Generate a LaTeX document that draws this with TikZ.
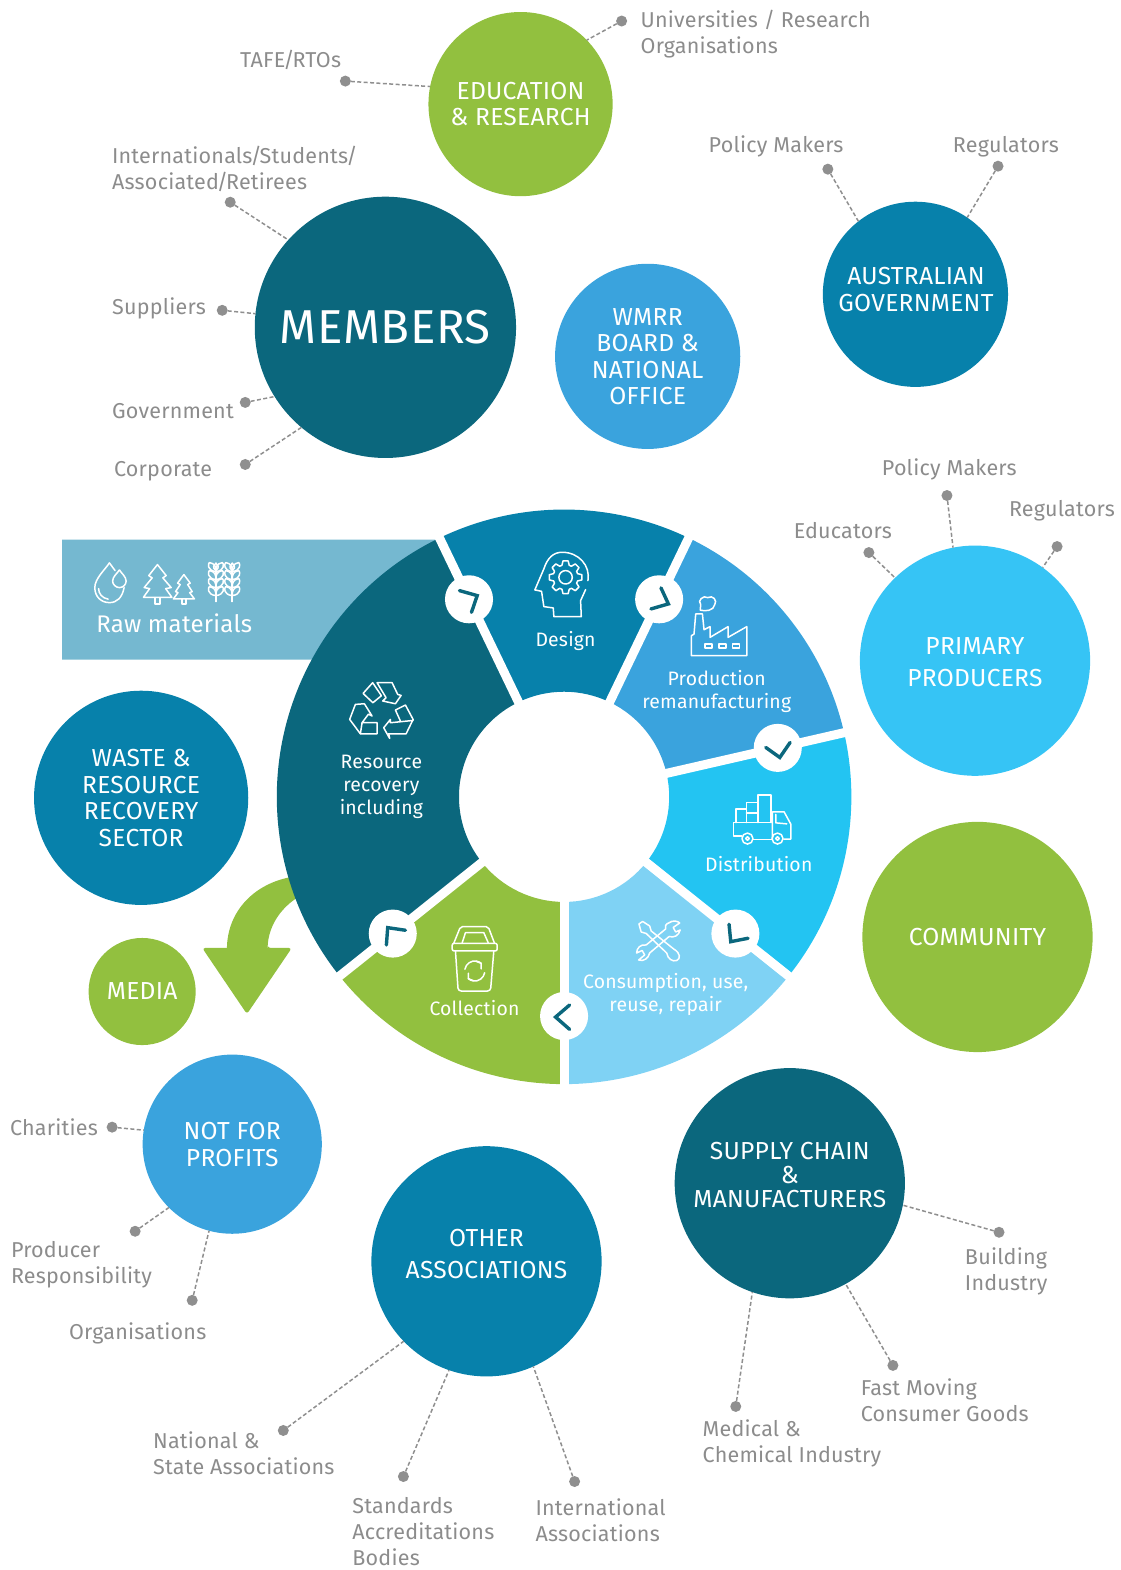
\documentclass[tikz,border=0pt]{standalone}
\usepackage{fontspec}
\setmainfont{Fira Sans}[LetterSpace=1]
\usetikzlibrary{arrows.meta}
\definecolor{cTeal}{HTML}{0B677D}
\definecolor{cBlue}{HTML}{0781AB}
\definecolor{cMid}{HTML}{3AA3DD}
\definecolor{cCyan}{HTML}{23C4F2}
\definecolor{cSky}{HTML}{36C4F5}
\definecolor{cPale}{HTML}{7FD2F4}
\definecolor{cGreen}{HTML}{92C03F}
\definecolor{cRaw}{HTML}{75B8D0}
\definecolor{cGrey}{HTML}{8C8C8C}
\definecolor{cDot}{HTML}{8F8F8F}
\newcommand\F{\rule{0pt}{18pt}}
\newcommand\Sl{\kern-2pt/\kern-2pt}
\newcommand\lab[4]{\node[lab] (#3) at (#1,#2-18) {\F #4};}
\newcommand\sect[3]{\fill[#3] (#1:105pt) -- (#1:287pt) arc[start angle=#1,end angle=#2,radius=287pt] -- (#2:105pt) arc[start angle=#2,end angle=#1,radius=105pt] -- cycle;}
\newcommand\leaf[3]{\draw[ic] (#1,#2) .. controls (#1+#3*9,#2-1) and (#1+#3*8,#2-8) .. (#1+#3*6.5,#2-9) .. controls (#1+#3*1,#2-8) and (#1,#2-5) .. (#1,#2);}
\newcommand\wheat[1]{\draw[ic] (#1,570) -- (#1,601);
\leaf{#1}{595}{1}\leaf{#1}{595}{-1}\leaf{#1}{587}{1}\leaf{#1}{587}{-1}\leaf{#1}{579}{1}\leaf{#1}{579}{-1}\leaf{#1}{571}{1}\leaf{#1}{571}{-1}
\draw[ic] (#1,570) .. controls (#1-4,567) and (#1-2,564) .. (#1,562.5) .. controls (#1+2,564) and (#1+4,567) .. (#1,570);}
\tikzset{
 big/.style={circle,inner sep=0pt,outer sep=0pt},
 ct/.style={inner sep=0pt,outer sep=0pt,align=center,text=white,font=\fontsize{24.6}{26.5}\selectfont},
 lab/.style={anchor=north west,inner sep=0pt,outer sep=0pt,align=left,text=cGrey,font=\fontsize{21.5}{26.1}\selectfont},
 wl/.style={inner sep=0pt,outer sep=0pt,align=center,text=white,font=\fontsize{19.4}{23}\selectfont},
 dotn/.style={circle,fill=cDot,inner sep=0pt,outer sep=0pt,minimum size=11pt},
 lead/.style={cDot,line width=1.5pt,dash pattern=on 4pt off 2.4pt},
 mk/.style={circle,fill=white,inner sep=0pt,minimum size=48pt},
 chev/.style={cTeal,line width=3.4pt,line cap=round,line join=miter},
 ic/.style={white,line width=1.5pt,line join=round,line cap=round},
}
\begin{document}
\begin{tikzpicture}[x=1pt,y=-1pt]
\useasboundingbox (0,0) rectangle (1118.9,1568.4);
% raw materials band and arrow behind the wheel
\fill[cRaw] (62,539) -- (436,539) -- (400,659) -- (62,659) -- cycle;
\fill[cGreen,rounded corners=3pt] (226.7,947) -- (202,947) -- (246.7,1013) -- (291.5,947) -- (267.3,947) -- (267.3,947);
\fill[cGreen] (226.7,948) .. controls (226.7,910) and (255,880) .. (298,875) -- (310,890) .. controls (285,900) and (267.3,922) .. (267.3,948) -- cycle;
% wheel
\begin{scope}[shift={(563.5,796)},y=1pt]
\sect{115.7}{64.3}{cBlue}
\sect{64.3}{12.9}{cMid}
\sect{12.9}{-38.6}{cCyan}
\sect{-38.6}{-90}{cPale}
\sect{-90}{-141.4}{cGreen}
\sect{-141.4}{-244.3}{cTeal}
\foreach \a in {115.7,64.3,12.9,-38.6,-90,-141.4}
  \draw[white,line width=9pt] (\a:100pt) -- (\a:292pt);
\node[mk] (m1) at (115.7:219pt) {};
\node[mk] (m2) at (64.3:219pt) {};
\node[mk] (m3) at (12.9:219pt) {};
\node[mk] (m4) at (-38.6:219pt) {};
\node[mk] (m5) at (-90:219pt) {};
\node[mk] (m6) at (-141.4:219pt) {};
\end{scope}
\draw[chev] (459,590) -- (476.7,595) -- (471,611.7);
\draw[chev] (660.3,587.3) -- (667.7,603.3) -- (650.3,608.3);
\draw[chev] (765,746.7) -- (779,756.7) -- (789.3,741.7);
\draw[chev] (728.3,923.3) -- (730,940.7) -- (747.3,937.3);
\draw[chev] (569,1004) -- (555,1016) -- (569,1028.3);
\draw[chev] (405,929.3) -- (387.3,926.7) -- (386,944);
% wheel labels
\node[wl] (tDesign) at (565,640) {Design};
\node[wl] (tProd) at (716,691) {Production\\remanufacturing};
\node[wl] (tDist) at (758,863) {Distribution};
\node[wl] (tCons) at (665,993) {Consumption, use,\\reuse, repair};
\node[wl] (tColl) at (474,1007) {Collection};
\node[wl] (tRes) at (381,786) {Resource\\recovery\\including};
\node[inner sep=0pt,text=white,font=\fontsize{24}{27}\selectfont] (tRaw) at (174,623) {Raw materials};
% icons: drops
\draw[ic] (109.3,562.3) .. controls (105,569) and (94.7,578) .. (94.7,587) .. controls (94.7,596) and (101,602) .. (109.3,602) .. controls (117,602) and (122,597) .. (124,587);
\draw[ic] (119.3,569.3) .. controls (117,573) and (112.5,576) .. (112.5,580.5) .. controls (112.5,584) and (116,587) .. (119.3,587) .. controls (123,587) and (126,584) .. (126,580.5) .. controls (126,576) and (121.5,573) .. (119.3,569.3);
\draw[ic] (98.5,588) .. controls (98.5,593) and (102,597.5) .. (108,598.5);
\draw[ic] (109.3,562.3) .. controls (111,565) and (113,567) .. (115,570);
% trees
\draw[ic] (157.3,564) -- (166,575) -- (162.7,577.3) -- (171,587) -- (165.5,588) -- (171.7,596.7) -- (143.3,596.7) -- (149.5,588) -- (144,587) -- (152,577.3) -- (148.6,575) -- cycle;
\draw[ic] (155,597) -- (155,603.3) -- (160,603.3) -- (160,597);
\draw[ic] (183.7,574) -- (190,582.5) -- (187.5,584) -- (192,591) -- (189.5,592) -- (194.2,598.3) -- (173.2,598.3) -- (177.8,592) -- (175.4,591) -- (180,584) -- (177.4,582.5) -- cycle;
\draw[ic] (181.7,598.5) -- (181.7,603.3) -- (185.7,603.3) -- (185.7,598.5);
% wheat
\wheat{215.7}
\wheat{232}
% head with gear
\draw[ic] (587.3,580) .. controls (590,565) and (578,551.7) .. (561.7,551.7) .. controls (553,551.7) and (547,557) .. (543.3,568.3) -- (534.3,589.3) -- (541,590.7) -- (543.3,606) -- (552.7,607.3) -- (553.3,616) -- (580.7,616) -- (580,600) -- (585,589);
\begin{scope}[shift={(565,576.7)},y=1pt]
\draw[ic] (-17:12.5pt) \foreach \a in {0,45,...,315}{ -- (\a-17:12.5pt) -- (\a-9:16.5pt) -- (\a+9:16.5pt) -- (\a+17:12.5pt)} -- cycle;
\draw[ic] (0,0) circle (6.7pt);
\end{scope}
% factory
\draw[ic] (690.7,635) -- (690.7,655) -- (746,655) -- (746,626) -- (727.3,636.7) -- (727.3,626) -- (709.3,636.7) -- (709.3,626) -- (703.3,629) -- (701.7,613.3) -- (695,613.3) -- (693.3,633.5) -- cycle;
\foreach \x in {708,721.7,735} \draw[ic] (\x-3.5,643.3) rectangle (\x+3.5,647.3);
\draw[ic] (699.5,609.5) -- (700,604) .. controls (696,600) and (703,594) .. (707,597) .. controls (712,594) and (717,600) .. (714,604) .. controls (713,610) and (705,611) .. (699.5,609.5);
% truck
\draw[ic] (770,821.7) -- (732.7,821.7) -- (732.7,835) -- (741,835);
\draw[ic] (735,821.7) -- (735,808.3) -- (745.7,808.3) -- (745.7,821.7);
\draw[ic] (745.7,812.3) -- (745.7,801.7) -- (757.3,801.7) -- (757.3,821.7) (745.7,812.3) -- (757.3,812.3);
\draw[ic] (757.3,801.7) -- (757.3,794.3) -- (770,794.3) -- (770,821.7);
\draw[ic] (771.7,838) -- (771.7,811) -- (783.3,811) -- (790,823.3) -- (790,838.3) -- (783,838.3);
\draw[ic] (775,813.5) -- (775,822) -- (786,823);
\draw[ic] (752.5,838.5) -- (771,838.5);
\draw[ic] (746.7,837.7) circle (5.5pt) (746.7,837.7) circle (1.8pt);
\draw[ic] (776.7,837.7) circle (5.5pt) (776.7,837.7) circle (1.8pt);
% tools
\draw[ic] (638.3,923) -- (642,920.5) -- (649,925) -- (650.5,930) -- (673,948) .. controls (680,952) and (680,958) .. (676,959.5) .. controls (672,961) and (667,958) .. (666,952) -- (645.5,932.5) -- (640.5,931) -- cycle;
\draw[ic] (668,922) .. controls (672,919) and (677,920) .. (679,922) -- (672.5,926.5) -- (675,931) -- (679.5,929) .. controls (678,935) and (673,937) .. (668.5,935.5) -- (649,952) .. controls (648,957) and (643,961) .. (638,959) -- (644,954) -- (641.5,949.5) -- (636,952) .. controls (636,947) and (640,943) .. (645.5,944) -- (665,928) .. controls (664,925.5) and (665,923) .. (668,922);
% bin
\draw[ic,rounded corners=2pt] (453.3,942.3) -- (460,925.7) -- (487.7,925.7) -- (494,942.3);
\draw[ic] (461.7,941.7) -- (465,931.7) -- (483.3,931.7) -- (487.7,941.7);
\draw[ic,rounded corners=2pt] (451.7,942.3) rectangle (496.7,950);
\draw[ic,rounded corners=3pt] (455,950) -- (457.7,990) -- (490,990) -- (493.3,950);
\begin{scope}[shift={(474.3,970)},y=1pt]
\draw[ic] (170:10pt) arc[start angle=170,end angle=50,radius=10pt];
\draw[ic] (-10:10pt) arc[start angle=-10,end angle=-130,radius=10pt];
\draw[ic] (50:10pt) ++(-5,2) -- (50:10pt) -- ++(0,-5.5);
\draw[ic] (-130:10pt) ++(5,-2) -- (-130:10pt) -- ++(0,5.5);
\end{scope}
% recycle
\draw[ic] (362.7,692.7) -- (372.3,682) -- (381,695) -- (372.5,702) -- cycle;
\draw[ic] (376.7,682) -- (391.7,682) -- (397.3,693.7) -- (400.7,694.7) -- (395,703) -- (382.3,700.3) -- (385.7,697) -- cycle;
\draw[ic] (400,720.3) -- (395,709.3) -- (405,704.3) -- (412.7,718.7) -- (405.7,733) -- (388.3,733) -- (389.3,737.7) -- (383.3,727) -- (390,718.7) -- (390,722) -- (412.7,719.7);
\draw[ic] (364,703) -- (355,703.7) -- (349.3,718.7) -- (360,733) -- (376.7,733) -- (376.7,722) -- (361.7,722) -- (368,713.5) -- (371.7,715.3) -- (364,703);
\draw[ic] (360,733) -- (361.7,722);
% big circles
\node[big,fill=cGreen,minimum size=184pt] (edu) at (520,104) {};
\node[big,fill=cTeal,minimum size=261pt] (mem) at (385,327) {};
\node[big,fill=cMid,minimum size=185pt] (wmrr) at (647,356) {};
\node[big,fill=cBlue,minimum size=185pt] (aus) at (914.5,294) {};
\node[big,fill=cSky,minimum size=230pt] (pri) at (974,660) {};
\node[big,fill=cGreen,minimum size=230pt] (com) at (976.5,936) {};
\node[big,fill=cBlue,minimum size=214pt] (was) at (141,797) {};
\node[big,fill=cGreen,minimum size=107pt] (med) at (142,990.5) {};
\node[big,fill=cMid,minimum size=179pt] (nfp) at (232,1143) {};
\node[big,fill=cBlue,minimum size=230pt] (oth) at (486,1260) {};
\node[big,fill=cTeal,minimum size=230pt] (sup) at (789,1182) {};
% circle titles
\node[ct] (tEdu) at (520,104) {EDUCATION\\\&\ RESEARCH};
\node[ct,font=\fontsize{47.5}{50}\selectfont] (tMem) at (385,327) {MEMBERS};
\node[ct] (tWmrr) at (647,356.5) {WMRR\\BOARD \&\\NATIONAL\\OFFICE};
\node[ct] (tAus) at (915,289) {AUSTRALIAN\\GOVERNMENT};
\node[ct,font=\fontsize{24.6}{31.5}\selectfont] (tPri) at (974,661.5) {PRIMARY\\PRODUCERS};
\node[ct] (tCom) at (976.5,936) {COMMUNITY};
\node[ct] (tWas) at (141,797) {WASTE \&\\RESOURCE\\RECOVERY\\SECTOR};
\node[ct] (tMed) at (142,990) {MEDIA};
\node[ct] (tNfp) at (232,1143.5) {NOT FOR\\PROFITS};
\node[ct,font=\fontsize{24.6}{31.5}\selectfont] (tOth) at (486,1252.5) {OTHER\\ASSOCIATIONS};
\node[ct,font=\fontsize{24.6}{24.2}\selectfont] (tSup) at (789,1174) {SUPPLY CHAIN\\\&\\MANUFACTURERS};
% outer labels
\lab{640}{27}{l1}{Universities / Research\\Organisations}
\lab{240}{67}{l2}{TAFE\Sl RTOs}
\lab{112}{163}{l3}{Internationals\Sl Students\Sl\\Associated\Sl Retirees}
\lab{112}{314}{l4}{Suppliers}
\lab{112}{418}{l5}{Government}
\lab{114}{476}{l6}{Corporate}
\lab{708}{152}{l7}{Policy Makers}
\lab{952}{152}{l8}{Regulators}
\lab{793}{538}{l9}{Educators}
\lab{881}{475}{l10}{Policy Makers}
\lab{1008}{516}{l11}{Regulators}
\lab{10}{1134}{l12}{Charities}
\lab{11}{1256}{l13}{Producer\\Responsibility}
\lab{69}{1338}{l14}{Organisations}
\lab{153}{1447}{l15}{National \&\\State Associations}
\lab{352}{1512}{l16}{Standards\\Accreditations\\Bodies}
\lab{535}{1514}{l17}{International\\Associations}
\lab{964}{1263}{l18}{Building\\Industry}
\lab{860}{1394}{l19}{Fast Moving\\Consumer Goods}
\lab{702}{1435}{l20}{Medical \&\\Chemical Industry}
% leader dots
\foreach \n/\x/\y in {d1/621/21,d2/345/81,d3/230/202,d4/222/310,d5/245/402,d6/245/464,d7/827/169,d8/997/166,d9/868/552,d10/946/495,d11/1056/546,d12/112/1126,d13/135/1230,d14/192/1299,d15/283/1429,d16/403/1475,d17/574/1480,d18/998/1231,d19/892/1364,d20/735/1405}
  \node[dotn] (\n) at (\x,\y) {};
\foreach \d/\t in {d1/edu.44,d2/edu.169.5,d3/mem.138.4,d4/mem.174.7,d5/mem.212,d6/mem.230.8,d7/aus.128,d8/aus.56,d9/pri.134.3,d10/pri.101.5,d11/pri.54,d12/nfp.171.7,d13/nfp.225.5,d14/nfp.255,d15/oth.224.6,d16/oth.251,d17/oth.294.3,d18/sup.349.6,d19/sup.299,d20/sup.251}
  \draw[lead] (\d) -- (\t);
\end{tikzpicture}
\end{document}
